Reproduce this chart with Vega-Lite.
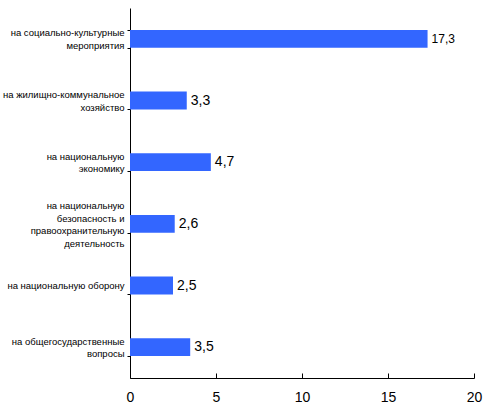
{
  "$schema": "https://vega.github.io/schema/vega-lite/v6.json",
  "autosize": {"type": "none"},
  "width": 344,
  "height": 370,
  "padding": {"left": 130, "top": 8, "right": 13, "bottom": 34},
  "background": "white",
  "config": {
    "view": {"stroke": null},
    "font": "Liberation Sans",
    "locale": {"number": {"decimal": ",", "thousands": " ", "grouping": [3], "currency": ["", ""]}}
  },
  "data": {
    "values": [
      {"category": "на социально-культурные|мероприятия", "value": 17.3},
      {"category": "на жилищно-коммунальное|хозяйство", "value": 3.3},
      {"category": "на национальную|экономику", "value": 4.7},
      {"category": "на национальную|безопасность и|правоохранительную|деятельность", "value": 2.6},
      {"category": "на национальную оборону", "value": 2.5},
      {"category": "на общегосударственные|вопросы", "value": 3.5}
    ]
  },
  "encoding": {
    "y": {
      "field": "category",
      "type": "nominal",
      "sort": null,
      "scale": {"paddingInner": 0.71, "paddingOuter": 0.355},
      "axis": {
        "title": null,
        "labelExpr": "split(datum.label, '|')",
        "labelFont": "Liberation Sans",
        "labelFontSize": 9.5,
        "labelColor": "black",
        "labelLineHeight": 12.5,
        "labelAlign": "right",
        "labelBaseline": "middle",
        "labelOffset": {
          "condition": [
            {"test": "length(split(datum.value, '|')) == 2", "value": -6},
            {"test": "length(split(datum.value, '|')) == 4", "value": -18}
          ],
          "value": 0
        },
        "labelPadding": 3,
        "labelLimit": 200,
        "tickBand": "extent",
        "tickSize": 3,
        "tickColor": "black",
        "domainColor": "black",
        "grid": false
      }
    },
    "x": {
      "field": "value",
      "type": "quantitative",
      "scale": {"domain": [0, 20], "nice": false},
      "axis": {
        "title": null,
        "values": [0, 5, 10, 15, 20],
        "format": "d",
        "grid": false,
        "tickSize": -5,
        "tickColor": "black",
        "domainColor": "black",
        "labelFontSize": 14,
        "labelColor": "black",
        "labelPadding": 17,
        "labelFlush": false
      }
    }
  },
  "layer": [
    {"mark": {"type": "bar", "color": "#3366FF"}},
    {
      "mark": {"type": "text", "align": "left", "baseline": "middle", "dx": 4, "color": "black", "font": "Liberation Sans"},
      "encoding": {
        "text": {"field": "value", "type": "quantitative", "format": ".1f"},
        "size": {"condition": {"test": "datum.value > 10", "value": 12}, "value": 14}
      }
    }
  ]
}
